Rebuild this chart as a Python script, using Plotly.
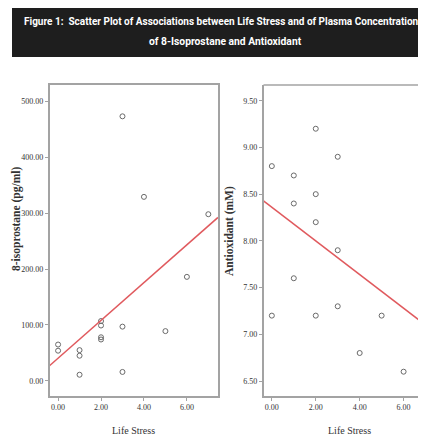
import plotly.graph_objects as go

# page offset (default body margin of the html page)
OFF = 8
W, H = 426 - OFF, 436 - OFF

# ---- data ----
life_stress = [0, 0, 1, 1, 1, 2, 2, 2, 2, 3, 3, 3, 4, 5, 6, 7]
isoprostane = [65, 54, 55, 45, 11, 107, 99, 78, 74, 97, 16, 473, 329, 89, 186, 298]

life_stress_b = [0, 0, 1, 1, 1, 2, 2, 2, 2, 3, 3, 3, 4, 5, 6, 7]
antioxidant = [8.8, 7.2, 8.7, 8.4, 7.6, 9.2, 8.5, 8.2, 7.2, 8.9, 7.9, 7.3, 6.8, 7.2, 6.6, 7.8]

iso_fit = [40.5, 33.8]      # intercept, slope
anti_fit = [8.36, -0.180]   # intercept, slope

x_ticks = [0, 2, 4, 6]
x_ticktext = ["0.00", "2.00", "4.00", "6.00"]
iso_ticks = [0, 100, 200, 300, 400, 500]
iso_ticktext = ["0.00", "100.00", "200.00", "300.00", "400.00", "500.00"]
anti_ticks = [6.5, 7.0, 7.5, 8.0, 8.5, 9.0, 9.5]
anti_ticktext = ["6.50", "7.00", "7.50", "8.00", "8.50", "9.00", "9.50"]

title_lines = ["Figure 1:  Scatter Plot of Associations between Life Stress and of Plasma Concentration",
               "of 8-Isoprostane and Antioxidant"]

x1_range = [-0.4, 7.45]
x2_range = [-0.38, 7.02]

def fit_line(coef, rng):
    xs = list(rng)
    return xs, [coef[0] + coef[1] * v for v in xs]

SERIF = "Liberation Serif, Times New Roman, serif"
TITLEFONT = "Roboto, Lato, sans-serif"
FRAME = "#a3a3a3"
MK = dict(symbol="circle-open", size=5, color="#6a6a6a", line=dict(width=1))
RED = "#e05a5e"

fig = go.Figure()
fig.add_trace(go.Scatter(x=life_stress, y=isoprostane, mode="markers", marker=MK,
                         xaxis="x", yaxis="y", showlegend=False))
lx, ly = fit_line(iso_fit, x1_range)
fig.add_trace(go.Scatter(x=lx, y=ly, mode="lines", line=dict(color=RED, width=1.5),
                         xaxis="x", yaxis="y", showlegend=False))
fig.add_trace(go.Scatter(x=life_stress_b, y=antioxidant, mode="markers", marker=MK,
                         xaxis="x2", yaxis="y2", showlegend=False))
lx2, ly2 = fit_line(anti_fit, x2_range)
fig.add_trace(go.Scatter(x=lx2, y=ly2, mode="lines", line=dict(color=RED, width=1.5),
                         xaxis="x2", yaxis="y2", showlegend=False))

def px_x(p):
    return (p - OFF) / W

def px_y(p):
    return (H - (p - OFF)) / H

tickfont = dict(family=SERIF, size=8, color="#333")
ax_common = dict(showgrid=False, zeroline=False, showline=True, linecolor=FRAME, linewidth=1.5,
                 ticks="outside", ticklen=3, tickcolor=FRAME, tickwidth=1, tickfont=tickfont)

fig.update_layout(
    width=W, height=H,
    margin=dict(l=0, r=0, t=0, b=0),
    paper_bgcolor="white", plot_bgcolor="white",
    xaxis=dict(domain=[px_x(49.5), px_x(218)], range=x1_range, tickvals=x_ticks, ticktext=x_ticktext,
               mirror=True, anchor="y", **ax_common),
    yaxis=dict(domain=[px_y(396), px_y(85)], range=[-27, 529], tickvals=iso_ticks, ticktext=iso_ticktext,
               mirror=True, anchor="x", **ax_common),
    xaxis2=dict(domain=[px_x(263.5), 1.0], range=x2_range, tickvals=x_ticks, ticktext=x_ticktext,
                anchor="y2", **ax_common),
    yaxis2=dict(domain=[px_y(396), px_y(85)], range=[6.34, 9.668], tickvals=anti_ticks,
                ticktext=anti_ticktext, anchor="x2", **ax_common),
)

# top border of right panel
fig.add_shape(type="line", xref="x2 domain", yref="y2 domain", x0=0, x1=1, y0=1, y1=1,
              line=dict(color=FRAME, width=1.5))

# title banner
fig.add_shape(type="rect", xref="paper", yref="paper", x0=px_x(12), x1=1.0, y0=px_y(57), y1=px_y(7),
              fillcolor="#1e1e1e", line=dict(width=0), layer="below")
fig.add_annotation(text="<b>" + title_lines[0] + "</b>", xref="paper", yref="paper",
                   x=px_x(221), y=px_y(22), showarrow=False, xanchor="center", yanchor="middle",
                   font=dict(family=TITLEFONT, size=10, color="white"))
fig.add_annotation(text="<b>" + title_lines[1] + "</b>", xref="paper", yref="paper",
                   x=px_x(225), y=px_y(42), showarrow=False, xanchor="center", yanchor="middle",
                   font=dict(family=TITLEFONT, size=10.3, color="white"))

# axis titles
fig.add_annotation(text="<b>8-isoprostane (pg/ml)</b>", xref="paper", yref="paper",
                   x=px_x(16), y=px_y(219), textangle=-90, showarrow=False,
                   xanchor="center", yanchor="middle",
                   font=dict(family=SERIF, size=11.5, color="#333"))
fig.add_annotation(text="<b>Antioxidant (mM)</b>", xref="paper", yref="paper",
                   x=px_x(230), y=px_y(231), textangle=-90, showarrow=False,
                   xanchor="center", yanchor="middle",
                   font=dict(family=SERIF, size=11.5, color="#333"))
fig.add_annotation(text="Life Stress", xref="paper", yref="paper",
                   x=px_x(133), y=px_y(430), showarrow=False, xanchor="center", yanchor="middle",
                   font=dict(family=SERIF, size=10, color="#333"))
fig.add_annotation(text="Life Stress", xref="paper", yref="paper",
                   x=px_x(349), y=px_y(430), showarrow=False, xanchor="center", yanchor="middle",
                   font=dict(family=SERIF, size=10, color="#333"))

fig.write_html("out.html")
